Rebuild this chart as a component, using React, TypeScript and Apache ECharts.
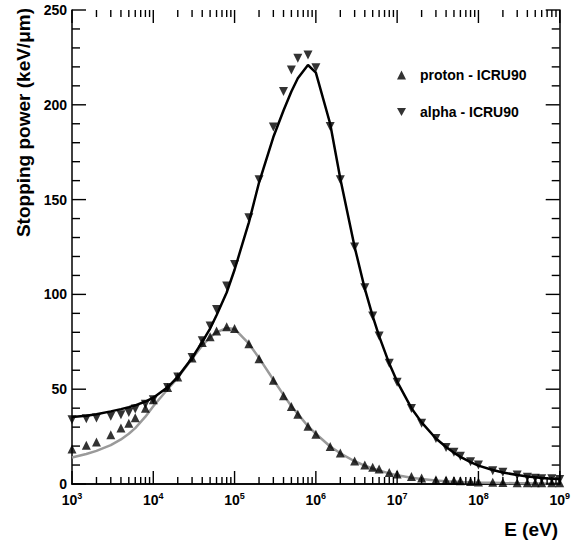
import React, { useEffect, useRef } from "react";
import * as echarts from "echarts";

const energies = [
  1e3, 1.5e3, 2e3, 3e3, 4e3, 5e3, 6e3, 8e3,
  1e4, 1.5e4, 2e4, 3e4, 4e4, 5e4, 6e4, 8e4,
  1e5, 1.5e5, 2e5, 3e5, 4e5, 5e5, 6e5, 8e5,
  1e6, 1.5e6, 2e6, 3e6, 4e6, 5e6, 6e6, 8e6,
  1e7, 1.5e7, 2e7, 3e7, 4e7, 5e7, 6e7, 8e7,
  1e8, 1.5e8, 2e8, 3e8, 4e8, 5e8, 6e8, 8e8,
  1e9,
];

const protonPoints = [
  18.5, 20.5, 22.2, 26, 29.5, 32, 35, 40,
  44.5, 50.9, 56.5, 66.5, 74.6, 77.7, 80.7, 83,
  82, 74, 66.1, 54.7, 46.5, 40.9, 36.8, 30.4,
  26.3, 19.8, 16.3, 12.1, 10, 8.8, 7.9, 6.1,
  5.3, 4, 3.2, 2.3, 2.1, 1.9, 1.7, 1.3,
  1.1, 0.9, 0.8, 0.7, 0.6, 0.6, 0.6, 0.6,
  0.6,
];

const alphaPoints = [
  33.9, 34.4, 34.8, 35.7, 36.5, 37.7, 39.5, 42,
  44.5, 50.9, 56.5, 66.7, 75.5, 83.3, 92, 104.4,
  115.8, 140.4, 160.5, 188.3, 207, 218.4, 224.6, 226.3,
  219.5, 188.6, 160.5, 125, 103.5, 88.6, 78, 63.7,
  53.7, 39.8, 32.1, 24, 19.3, 16.7, 14.6, 11.8,
  10, 7, 6.2, 4.7, 3.5, 3, 2.8, 2.8,
  2.4,
];

const protonCurve = [
  14, 15.8, 17.5, 20.5, 23.5, 26.5, 29.5, 35.5,
  41, 50, 56, 66, 73, 77.5, 80, 82.3,
  81.8, 74, 66.5, 55, 47, 41, 37, 30.5,
  26.5, 19.8, 16.2, 12, 9.7, 8.2, 7.1, 5.6,
  4.6, 3.3, 2.6, 1.9, 1.5, 1.3, 1.1, 0.9,
  0.75, 0.6, 0.5, 0.4, 0.35, 0.3, 0.28, 0.25,
  0.22,
];

const alphaCurve = [
  35.4, 36, 36.8, 38.3, 39.5, 40.5, 41.5, 43.5,
  45.5, 51, 56.5, 66.5, 75, 82, 89, 101,
  113, 138, 159, 183, 197, 207, 214, 221,
  217, 190, 161, 125, 103, 88.5, 78, 63.5,
  54, 40, 32.5, 24, 19.5, 16.5, 14.3, 11.5,
  9.7, 7.4, 6.1, 4.7, 3.9, 3.5, 3.2, 2.8,
  2.6,
];

const decades = [1e3, 1e4, 1e5, 1e6, 1e7, 1e8, 1e9];
const minorMultipliers = [2, 3, 4, 5, 6, 7, 8, 9];
const yMajor = [0, 50, 100, 150, 200, 250];
const yMinorStep = 10;

const legendNames = ["proton - ICRU90", "alpha - ICRU90"];
const xTitle = "E (eV)";
const yTitle = "Stopping power (keV/\u03bcm)";

const FONT = "'Liberation Sans', Arial, Helvetica, sans-serif";
const DOWN_TRI = "path://M0,0L10,0L5,9Z";

export default function App() {
  const ref = useRef<HTMLDivElement>(null);

  useEffect(() => {
    document.body.style.margin = "0";
    if (!ref.current) return;
    const chart = echarts.init(ref.current, null, { renderer: "svg" });

    const X_MIN = decades[0];
    const X_MAX = decades[decades.length - 1];
    const Y_MIN = yMajor[0];
    const Y_MAX = yMajor[yMajor.length - 1];

    const minorE: number[] = [];
    decades.slice(0, -1).forEach((d) => minorMultipliers.forEach((m) => minorE.push(d * m)));
    const yMinor: number[] = [];
    for (let v = Y_MIN + yMinorStep; v < Y_MAX; v += yMinorStep) {
      if (v % 50 !== 0) yMinor.push(v);
    }

    // tick items: [x, y, dx, dy] (dx, dy = pixel direction/length of the tick)
    const ticks: number[][] = [];
    decades.forEach((e) => {
      ticks.push([e, Y_MIN, 0, -13]);
      ticks.push([e, Y_MAX, 0, 13]);
    });
    minorE.forEach((e) => {
      ticks.push([e, Y_MIN, 0, -7]);
      ticks.push([e, Y_MAX, 0, 7]);
    });
    yMajor.forEach((v) => {
      ticks.push([X_MIN, v, 14, 0]);
      ticks.push([X_MAX, v, -14, 0]);
    });
    yMinor.forEach((v) => {
      ticks.push([X_MIN, v, 8, 0]);
      ticks.push([X_MAX, v, -8, 0]);
    });

    const pair = (vals: number[]) => energies.map((e, i) => [e, vals[i]]);

    const xCommon = {
      type: "log" as const,
      logBase: 10,
      min: X_MIN,
      max: X_MAX,
      splitLine: { show: false },
      axisLine: { show: true, lineStyle: { color: "#000", width: 1.5 } },
      axisTick: { show: false },
    };
    const yCommon = {
      type: "value" as const,
      min: Y_MIN,
      max: Y_MAX,
      interval: 50,
      splitLine: { show: false },
      axisLine: { show: true, lineStyle: { color: "#000", width: 1.5 } },
      axisTick: { show: false },
      minorTick: { show: false },
    };

    chart.setOption({
      animation: false,
      backgroundColor: "#fff",
      grid: { left: 72, right: 13, top: 10, bottom: 63, containLabel: false },
      xAxis: [
        {
          ...xCommon,
          position: "bottom",
          axisLabel: {
            margin: 7,
            formatter: (v: number) => `{b|10}{s|${Math.round(Math.log10(v))}}`,
            rich: {
              b: { fontSize: 14, fontWeight: "bold", fontFamily: FONT, color: "#000" },
              s: {
                fontSize: 9,
                fontWeight: "bold",
                fontFamily: FONT,
                color: "#000",
                padding: [0, 0, 8, 0],
              },
            },
          },
        },
        {
          ...xCommon,
          position: "top",
          axisLabel: { show: false },
        },
      ],
      yAxis: [
        {
          ...yCommon,
          position: "left",
          axisLabel: {
            margin: 5,
            fontSize: 14,
            fontWeight: "bold",
            fontFamily: FONT,
            color: "#000",
          },
        },
        {
          ...yCommon,
          position: "right",
          axisLabel: { show: false },
        },
      ],
      legend: {
        orient: "vertical",
        left: 392,
        top: 63,
        itemWidth: 9,
        itemHeight: 9,
        itemGap: 23,
        selectedMode: false,
        data: [
          { name: legendNames[0], icon: "triangle" },
          { name: legendNames[1], icon: DOWN_TRI },
        ],
        textStyle: {
          fontSize: 14,
          fontWeight: "bold",
          fontFamily: FONT,
          color: "#000",
          padding: [0, 0, 0, 9],
        },
      },
      graphic: [
        {
          type: "text",
          x: 23,
          y: 8,
          rotation: Math.PI / 2,
          style: {
            text: yTitle,
            fontSize: 19,
            fontWeight: "bold",
            fontFamily: FONT,
            fill: "#000",
            textAlign: "right",
            textVerticalAlign: "middle",
          },
        },
        {
          type: "text",
          x: 558,
          y: 529,
          style: {
            text: xTitle,
            fontSize: 19,
            fontWeight: "bold",
            fontFamily: FONT,
            fill: "#000",
            textAlign: "right",
            textVerticalAlign: "middle",
          },
        },
      ],
      series: [
        {
          name: "proton curve",
          type: "line",
          data: pair(protonCurve),
          symbol: "none",
          lineStyle: { color: "#9a9a9a", width: 2.5 },
          z: 2,
          silent: true,
        },
        {
          name: "alpha curve",
          type: "line",
          data: pair(alphaCurve),
          symbol: "none",
          lineStyle: { color: "#000", width: 2.5 },
          z: 3,
          silent: true,
        },
        {
          name: legendNames[0],
          type: "scatter",
          data: pair(protonPoints),
          symbol: "triangle",
          symbolSize: 9,
          itemStyle: { color: "#000" },
          z: 4,
        },
        {
          name: legendNames[1],
          type: "scatter",
          data: pair(alphaPoints),
          symbol: DOWN_TRI,
          symbolSize: 9,
          itemStyle: { color: "#000" },
          z: 4,
        },
        {
          name: "axis ticks",
          type: "custom",
          data: ticks,
          encode: { x: 0, y: 1 },
          clip: false,
          silent: true,
          z: 6,
          renderItem: (_params: any, api: any) => {
            const p = api.coord([api.value(0), api.value(1)]);
            const dx = api.value(2);
            const dy = api.value(3);
            return {
              type: "line",
              shape: { x1: p[0], y1: p[1], x2: p[0] + dx, y2: p[1] + dy },
              style: { stroke: "#000", lineWidth: 1.4 },
            };
          },
        },
      ],
    });

    return () => chart.dispose();
  }, []);

  return <div ref={ref} style={{ width: 573, height: 547 }} />;
}
